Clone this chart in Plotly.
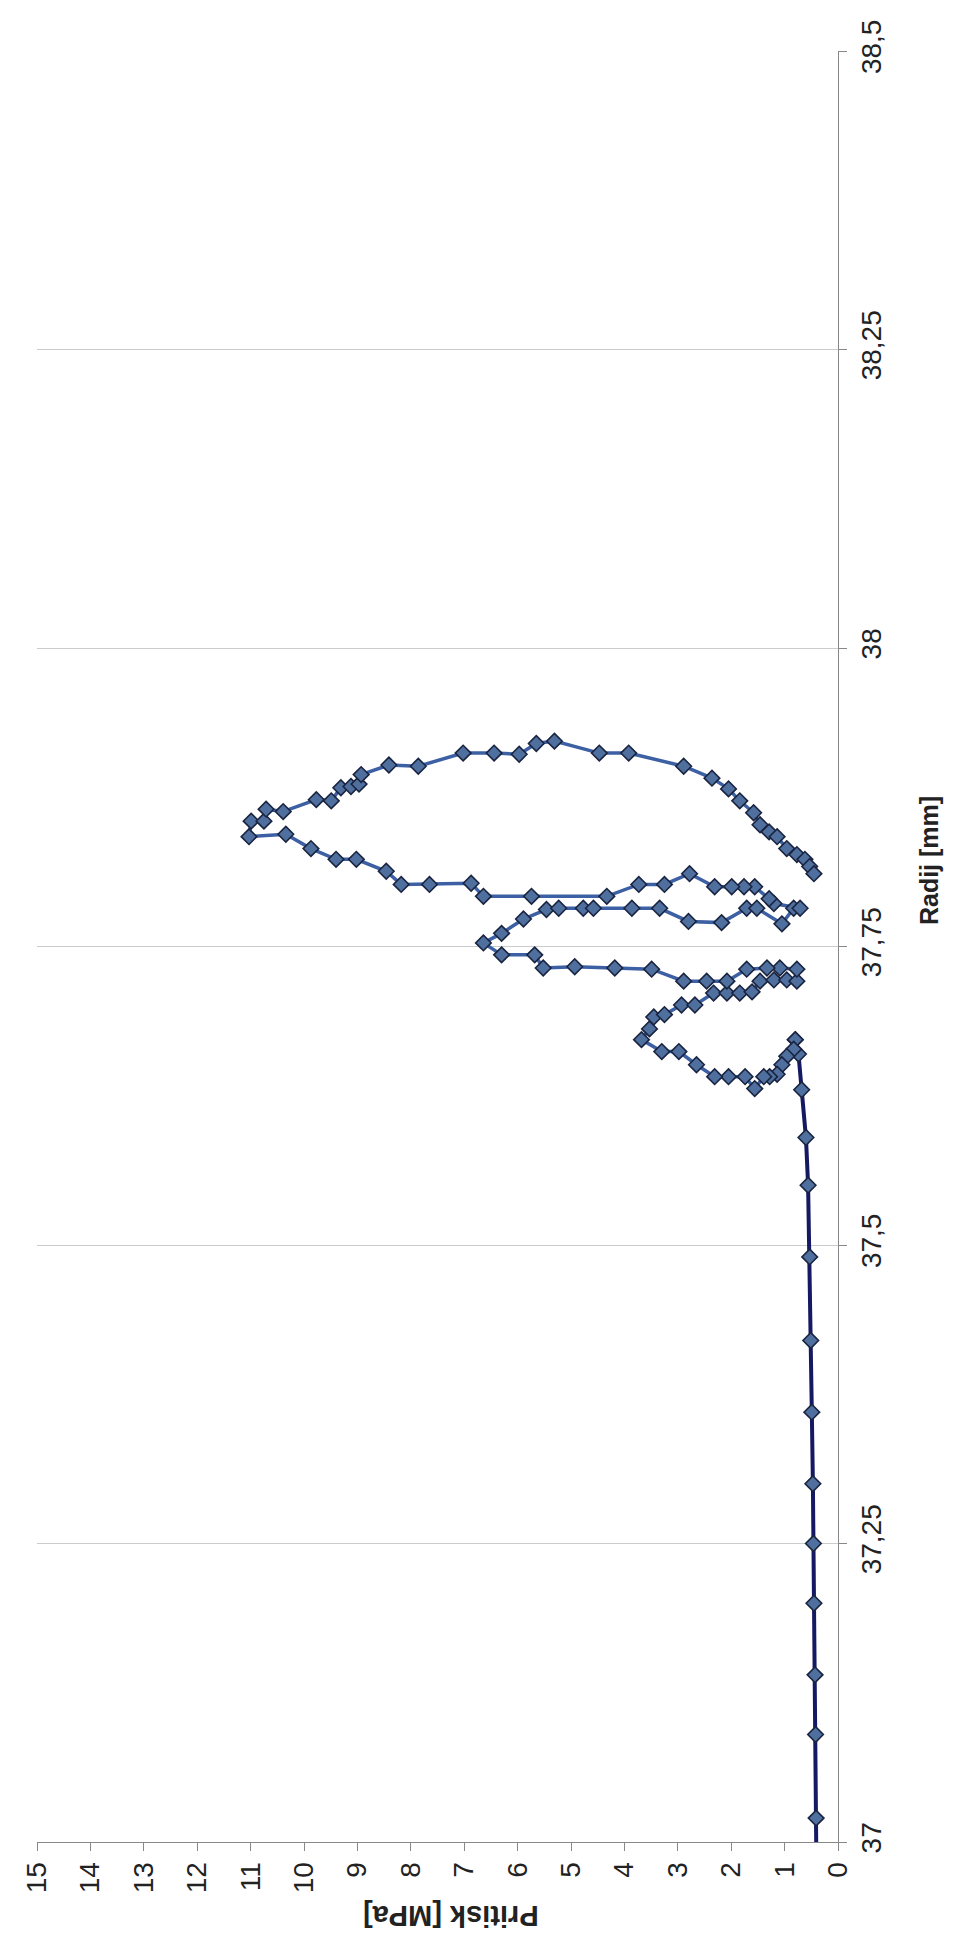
import plotly.graph_objects as go

# Radij [mm] (vertical axis) and Pritisk [MPa] (horizontal axis), chart is drawn rotated
navy_radius = [36.96, 37.02, 37.09, 37.14, 37.20, 37.25, 37.30, 37.36, 37.42, 37.49,
               37.55, 37.59, 37.63, 37.66, 37.672]
navy_pressure = [0.40, 0.41, 0.42, 0.43, 0.45, 0.46, 0.47, 0.49, 0.51, 0.53,
                 0.56, 0.60, 0.68, 0.74, 0.80]

blue_radius = [37.672, 37.664, 37.658, 37.651, 37.643, 37.641, 37.641, 37.631, 37.641, 37.641,
               37.641, 37.651, 37.662, 37.662, 37.672, 37.681, 37.691, 37.693, 37.701, 37.701,
               37.711, 37.711, 37.711, 37.712, 37.721, 37.722, 37.722, 37.721, 37.731, 37.732,
               37.732, 37.731, 37.721, 37.721, 37.721, 37.731, 37.732, 37.733, 37.732, 37.743,
               37.743, 37.753, 37.761, 37.773, 37.781, 37.782, 37.782, 37.782, 37.782, 37.782,
               37.771, 37.770, 37.782, 37.782, 37.769, 37.782, 37.782, 37.786, 37.790, 37.800,
               37.800, 37.800, 37.800, 37.811, 37.802, 37.802, 37.792, 37.792, 37.792, 37.803,
               37.802, 37.802, 37.813, 37.823, 37.823, 37.832, 37.844, 37.842, 37.855, 37.855,
               37.865, 37.863, 37.873, 37.872, 37.883, 37.884, 37.886, 37.894, 37.902, 37.901,
               37.912, 37.912, 37.911, 37.920, 37.922, 37.912, 37.912, 37.901, 37.891, 37.882,
               37.872, 37.862, 37.852, 37.846, 37.842, 37.832, 37.827, 37.823, 37.817, 37.811]
blue_pressure = [0.80, 0.83, 0.96, 1.05, 1.14, 1.28, 1.39, 1.56, 1.74, 2.05,
                 2.31, 2.65, 2.98, 3.30, 3.68, 3.53, 3.45, 3.25, 2.93, 2.68,
                 2.33, 2.08, 1.84, 1.61, 1.46, 1.20, 0.96, 0.77, 0.77, 1.09,
                 1.33, 1.71, 2.08, 2.46, 2.89, 3.49, 4.18, 4.93, 5.52, 5.68,
                 6.30, 6.64, 6.30, 5.89, 5.46, 5.23, 4.77, 4.58, 3.86, 3.34,
                 2.80, 2.18, 1.71, 1.52, 1.05, 0.83, 0.71, 1.20, 1.29, 1.56,
                 1.76, 1.99, 2.31, 2.78, 3.25, 3.73, 4.33, 5.74, 6.64, 6.87,
                 7.65, 8.18, 8.46, 9.02, 9.40, 9.87, 10.34, 11.03, 10.99, 10.75,
                 10.71, 10.39, 9.77, 9.49, 9.31, 9.12, 8.97, 8.93, 8.41, 7.86,
                 7.02, 6.44, 5.97, 5.65, 5.31, 4.47, 3.92, 2.89, 2.36, 2.05,
                 1.84, 1.58, 1.46, 1.29, 1.14, 0.96, 0.77, 0.62, 0.53, 0.45]

radius_ticks = [37, 37.25, 37.5, 37.75, 38, 38.25, 38.5]
radius_labels = ['37', '37,25', '37,5', '37,75', '38', '38,25', '38,5']
pressure_ticks = list(range(0, 16))

marker_style = dict(symbol='diamond', size=12, color='#4f709f',
                    line=dict(color='#1a2440', width=1.6))

fig = go.Figure()
fig.add_trace(go.Scatter(x=navy_pressure, y=navy_radius, mode='lines+markers',
                         line=dict(color='#151963', width=4),
                         marker=marker_style, showlegend=False))
fig.add_trace(go.Scatter(x=blue_pressure, y=blue_radius, mode='lines+markers',
                         line=dict(color='#3c60a3', width=3.5),
                         marker=marker_style, showlegend=False))

fig.update_layout(
    width=959, height=1942,
    margin=dict(l=29, r=129, t=43, b=108),
    plot_bgcolor='white', paper_bgcolor='white',
    font=dict(family='Liberation Sans, Arial, sans-serif', size=28, color='#222'),
    xaxis=dict(range=[15, 0], tickvals=pressure_ticks, tickangle=-90,
               showgrid=False, zeroline=False, showline=True, linecolor='#888',
               linewidth=1, ticks='outside', ticklen=8, tickcolor='#888',
               automargin=False),
    yaxis=dict(range=[37, 38.5], side='right', tickvals=radius_ticks,
               ticktext=radius_labels, tickangle=-90,
               showgrid=True, gridcolor='#cccccc', gridwidth=1,
               zeroline=False, showline=True, linecolor='#888', linewidth=1,
               ticks='outside', ticklen=8, tickcolor='#888', automargin=False),
    annotations=[
        dict(text='<b>Radij [mm]</b>', xref='paper', yref='paper', x=1.133, y=0.548,
             textangle=-90, showarrow=False, font=dict(size=25, color='#222')),
        dict(text='<b>Pritisk [MPa]</b>', xref='paper', yref='paper', x=0.516, y=-0.051,
             textangle=180, showarrow=False, font=dict(size=29, color='#222')),
    ],
)

fig.write_html("out.html")
